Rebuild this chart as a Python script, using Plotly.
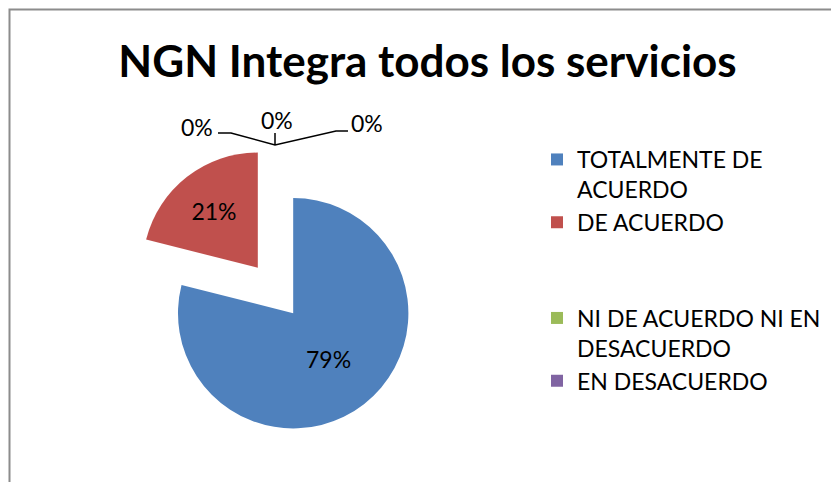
import plotly.graph_objects as go

# categories and counts (one unnamed zero-valued category, as in the source sheet)
categories = ["TOTALMENTE DE<br>ACUERDO", "DE ACUERDO", " <br> ", "NI DE ACUERDO NI EN<br>DESACUERDO", "EN DESACUERDO"]
counts = [15, 4, 0, 0, 0]
colors = ["#4F81BD", "#C0504D", "#FFFFFF", "#9BBB59", "#8064A2"]
zero_labels = ["0%", "0%", "0%"]

W, H = 831, 482
FONT = "Lato"

fig = go.Figure()
fig.add_trace(go.Pie(
    labels=categories,
    values=counts,
    sort=False,
    direction="clockwise",
    rotation=0,
    pull=[0.25, 0.25, 0, 0, 0],
    marker=dict(colors=colors, line=dict(width=0)),
    textinfo="percent",
    texttemplate="%{percent:.0%}",
    textposition="inside",
    insidetextorientation="horizontal",
    textfont=dict(family=FONT, size=23, color="black"),
    domain=dict(x=[131.5 / W, 419.5 / W], y=[1 - 434.5 / H, 1 - 146.5 / H]),
    hoverinfo="label+percent",
))

# labels for the zero slices, with leader lines
for txt, (px_, py_) in zip(zero_labels, [(197, 127), (277, 120), (367, 123)]):
    fig.add_annotation(x=px_ / W, y=1 - py_ / H, xref="paper", yref="paper",
                       text=txt, showarrow=False, xanchor="center", yanchor="middle",
                       font=dict(family=FONT, size=23, color="black"))

def p(x, y):
    return f"{x / W:.5f},{1 - y / H:.5f}"

leader = (f"M {p(218, 133)} L {p(231, 133)} L {p(275, 145)} L {p(336, 131)} L {p(348, 131)} "
          f"M {p(275, 133)} L {p(275, 145)}")
fig.add_shape(type="path", path=leader, xref="paper", yref="paper",
              line=dict(color="black", width=1.5))

# chart frame (only top and left edges visible in the crop)
fig.add_shape(type="rect", xref="paper", yref="paper",
              x0=9.5 / W, x1=1.02, y0=-0.02, y1=1 - 9.5 / H,
              line=dict(color="#8C8C8C", width=2))

fig.update_layout(
    width=W, height=H,
    margin=dict(l=0, r=0, t=0, b=0),
    paper_bgcolor="white",
    font=dict(family=FONT, color="black"),
    title=dict(text="<b>NGN Integra todos los servicios</b>",
               x=427.5 / W, xanchor="center", y=1 - 62 / H, yanchor="middle",
               font=dict(family=FONT, size=44, color="black")),
    showlegend=True,
    legend=dict(x=537 / W, y=1 - 138 / H, xanchor="left", yanchor="top",
                valign="top",
                font=dict(family=FONT, size=23, color="black"),
                itemsizing="constant", bgcolor="rgba(0,0,0,0)"),
)

fig.write_html("out.html", config={"displayModeBar": False},
               post_script="document.body.style.margin='0';")
